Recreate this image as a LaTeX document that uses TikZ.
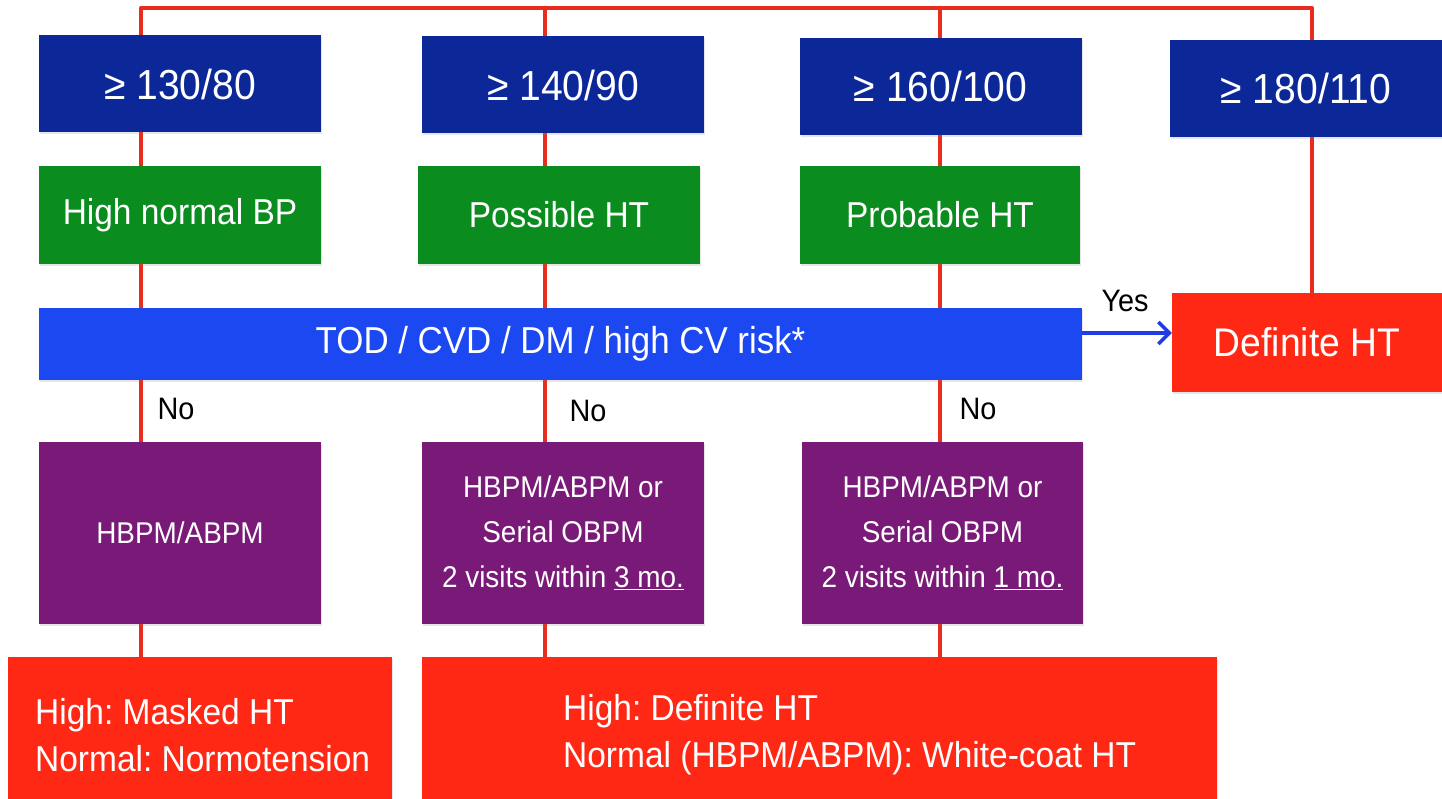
\documentclass[tikz,border=0pt]{standalone}
\usepackage{fontspec}
\setmainfont[FakeStretch=0.93]{Liberation Sans}
\usetikzlibrary{arrows.meta,backgrounds,shadows}
\definecolor{cdarkblue}{RGB}{12,40,152}
\definecolor{cgreen}{RGB}{10,140,30}
\definecolor{cbar}{RGB}{28,72,242}
\definecolor{cpurple}{RGB}{122,26,120}
\definecolor{cred}{RGB}{255,40,20}
\definecolor{cline}{RGB}{232,45,30}
\definecolor{carrow}{RGB}{30,60,230}
\frenchspacing
\begin{document}
\begin{tikzpicture}[x=1pt,y=-1pt,
  box/.style={inner sep=0pt, text=white, align=center,
    drop shadow={shadow xshift=1pt, shadow yshift=-2pt, opacity=0.2}},
  topbox/.style={box, fill=cdarkblue, minimum width=282, minimum height=97,
    font=\fontsize{42}{48}\selectfont},
  catbox/.style={box, fill=cgreen, minimum width=282, minimum height=98,
    font=\fontsize{36}{42}\selectfont},
  testbox/.style={box, fill=cpurple, minimum width=282, minimum height=182,
    font=\fontsize{30}{45}\selectfont},
  resbox/.style={box, fill=cred},
  restext/.style={inner sep=0pt, text=white, align=left, anchor=west,
    font=\fontsize{36}{47}\selectfont},
  lbl/.style={inner sep=0pt, text=black, font=\fontsize{31}{36}\selectfont},
  redline/.style={draw=cline, line width=4.5pt, line join=round, line cap=round},
  yesarrow/.style={draw=carrow, line width=3.5pt,
    -{Straight Barb[length=11pt,width=22pt,line width=3.5pt]}}
]
\useasboundingbox (0,0) rectangle (1442,799);

% threshold boxes
\node[topbox] (b1) at (180,84) {≥ 130/80};
\node[topbox] (b2) at (563,85) {≥ 140/90};
\node[topbox] (b3) at (940.5,86.5) {≥ 160/100};
\node[topbox, minimum width=272] (b4) at (1306,88.5) {≥ 180/110};

% category boxes
\node[catbox] (g1) at (180,215) {High normal BP};
\node[catbox] (g2) at (559,215) {Possible HT};
\node[catbox, minimum width=280] (g3) at (940,215) {Probable HT};

% risk bar
\node[box, fill=cbar, minimum width=1043, minimum height=72,
  font=\fontsize{37.5}{42}\selectfont] (bar) at (560.5,344) {TOD / CVD / DM / high CV risk*};

% definite HT
\node[resbox, minimum width=270, minimum height=99,
  font=\fontsize{40}{46}\selectfont] (def) at (1307,342.5) {Definite HT};

% test boxes
\node[testbox] (p1) at (180,533) {HBPM/ABPM};
\node[testbox] (p2) at (563,533) {HBPM/ABPM or\\Serial OBPM\\2 visits within \underline{3 mo.}};
\node[testbox, minimum width=281] (p3) at (942.5,533) {HBPM/ABPM or\\Serial OBPM\\2 visits within \underline{1 mo.}};

% result boxes
\node[resbox, minimum width=384, minimum height=142] (r1) at (200,728) {};
\node[resbox, minimum width=795, minimum height=142] (r2) at (819.5,728) {};
\node[restext] (r1t) at (35,735) {High: Masked HT\\Normal: Normotension};
\node[restext] (r2t) at (563,735) {High: Definite HT\\Normal (HBPM/ABPM): White-coat HT};

% labels
\node[lbl] (yes) at (1125,301) {Yes};
\node[lbl] (no1) at (176,409) {No};
\node[lbl] (no2) at (588,411) {No};
\node[lbl] (no3) at (978,409) {No};

% connectors
\coordinate (t1) at (141,8);
\coordinate (t2) at (545,8);
\coordinate (t3) at (940,8);
\coordinate (t4) at (1312,8);
\coordinate (ya) at (0,333);
\begin{pgfonlayer}{background}
  \draw[redline] (t1 |- r1.north) -- (t1) -- (t4) -- (t4 |- def.north);
  \draw[redline] (t2) -- (t2 |- r2.north);
  \draw[redline] (t3) -- (t3 |- r2.north);
\end{pgfonlayer}
\draw[yesarrow] (bar.east |- ya) -- (def.west |- ya);
\end{tikzpicture}
\end{document}
